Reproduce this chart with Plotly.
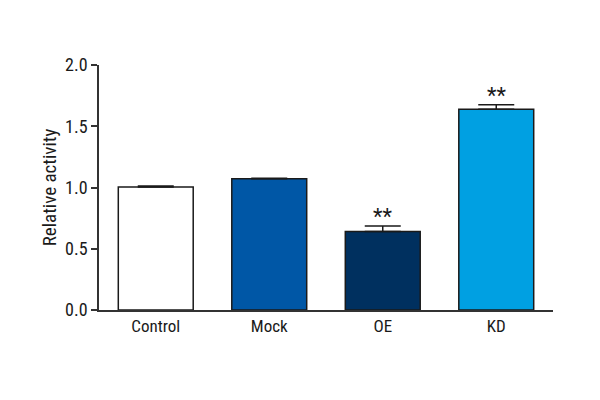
import plotly.graph_objects as go

categories = ["Control", "Mock", "OE", "KD"]
values = [1.005, 1.072, 0.64, 1.638]
errors = [0.008, 0.004, 0.045, 0.038]
colors = ["#ffffff", "#0057a6", "#00305f", "#00a0e2"]
sig = ["", "", "**", "**"]
yticks = [0.0, 0.5, 1.0, 1.5, 2.0]
ytick_labels = ["0.0", "0.5", "1.0", "1.5", "2.0"]

FONT = "Liberation Sans Narrow, Roboto Condensed, Arial Narrow, sans-serif"

fig = go.Figure()
fig.add_trace(go.Bar(
    x=categories, y=values,
    marker=dict(color=colors, line=dict(color="#1a1a1a", width=1.5)),
    width=0.66,
    error_y=dict(type="data", array=errors, arrayminus=[0]*4, symmetric=False,
                 color="#1a1a1a", thickness=1.5, width=18),
    showlegend=False,
))

for c, v, e, s in zip(categories, values, errors, sig):
    if s:
        fig.add_annotation(x=c, y=v + e, text=s, showarrow=False,
                           yanchor="bottom", yshift=-5,
                           font=dict(family=FONT, size=22, color="#1a1a1a"))

fig.update_layout(
    width=600, height=400,
    margin=dict(l=91, r=55, t=57, b=98, autoexpand=False),
    paper_bgcolor="white", plot_bgcolor="white",
    font=dict(family=FONT, size=17, color="#1a1a1a"),
)
fig.update_xaxes(
    range=[-0.5, 3.5], showline=True, linecolor="#333333", linewidth=1.5,
    ticks="", showgrid=False, zeroline=False, automargin=False,
    tickfont=dict(family=FONT, size=17),
)
fig.update_yaxes(
    range=[0, 2.0], tickvals=yticks, ticktext=ytick_labels,
    showline=True, linecolor="#333333", linewidth=1.5,
    ticks="outside", ticklen=6, tickwidth=1.5, tickcolor="#333333",
    showgrid=False, zeroline=False, automargin=False,
    title=dict(text="Relative activity", font=dict(family=FONT, size=19), standoff=3),
    tickfont=dict(family=FONT, size=18),
)

fig.write_html("out.html")
